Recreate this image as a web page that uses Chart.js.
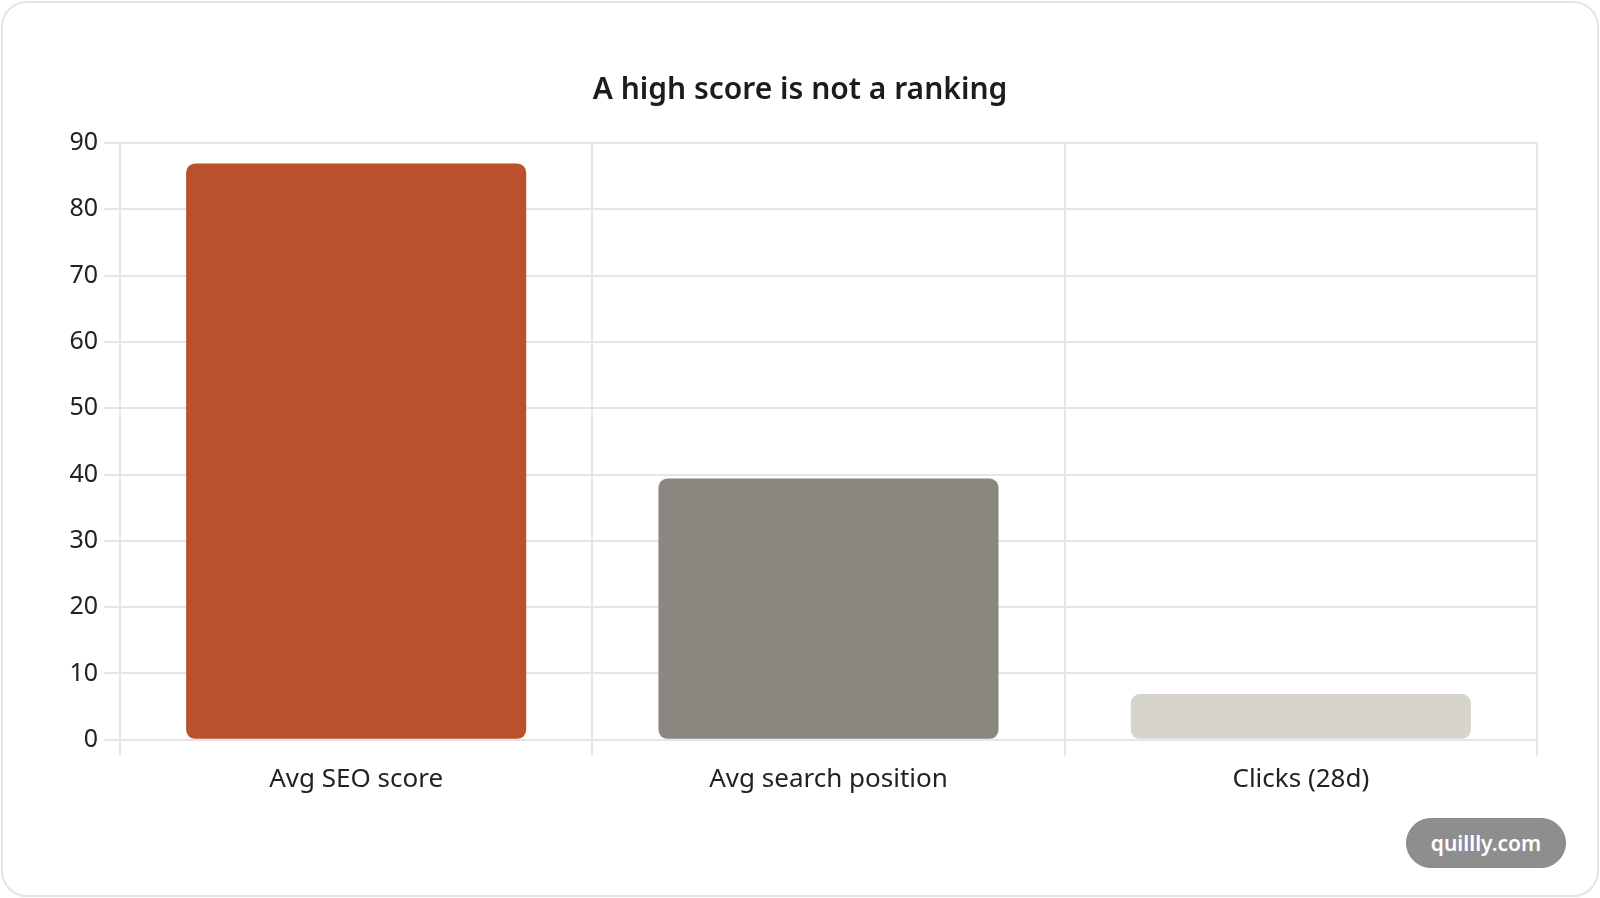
<!DOCTYPE html>
<html>
<head>
<meta charset="utf-8">
<script src="https://cdn.jsdelivr.net/npm/chart.js@4"></script>
<style>
  html, body { margin: 0; padding: 0; background: #fff; }
  body { width: 1600px; height: 898px; position: relative; overflow: hidden; }
  .card {
    position: absolute; left: 1px; top: 1px; width: 1598px; height: 896px;
    box-sizing: border-box; border: 2px solid #e4e4e4; border-radius: 26px; background: #fff;
  }
  #wrap { position: absolute; left: 0; top: 0; width: 1600px; height: 898px; }
  .badge {
    position: absolute; left: 1406px; top: 818px; width: 160px; height: 50px;
    border-radius: 25px; background: #8e8e8e; border: 1px solid #888; box-sizing: border-box;
    color: #fff; font: 600 21px "Noto Sans", sans-serif; line-height: 48px; text-align: center;
  }
</style>
</head>
<body>
<div class="card"></div>
<div id="wrap"><canvas id="bar-chart"></canvas></div>
<div class="badge">quillly.com</div>
<script>
// categories and values
var categories = ["Avg SEO score", "Avg search position", "Clicks (28d)"];
var values = [86.9, 39.4, 6.9];
var barColors = ["#B9512D", "#8A8680", "#D6D4CC"];

var fontFamily = "'Noto Sans', sans-serif";

var chart = new Chart(document.getElementById("bar-chart"), {
  type: 'bar',
  data: {
    labels: categories,
    datasets: [{
      data: values,
      backgroundColor: barColors,
      borderRadius: 9,
      borderSkipped: false
    }]
  },
  options: {
    responsive: true,
    maintainAspectRatio: false,
    animation: false,
    devicePixelRatio: 1,
    // symmetric side padding keeps the title centred on the card
    layout: { padding: { left: 63, right: 63, top: 0, bottom: 95 } },
    plugins: {
      legend: { display: false },
      tooltip: { enabled: false },
      title: {
        display: true,
        text: 'A high score is not a ranking',
        color: '#1c1c1c',
        font: { family: fontFamily, size: 30, weight: '600', lineHeight: 1.2 },
        padding: { top: 72, bottom: 35 }
      }
    },
    scales: {
      x: {
        grid: { color: '#e5e5e5', lineWidth: 2, tickLength: 16 },
        border: { color: '#e5e5e5', width: 2 },
        ticks: { color: '#222', padding: 8, font: { family: fontFamily, size: 26 } }
      },
      y: {
        min: 0,
        max: 90,
        afterFit: function(scale) { scale.width = 57; },
        grid: { color: '#e5e5e5', lineWidth: 2, tickLength: 16 },
        border: { color: '#e5e5e5', width: 2 },
        ticks: { stepSize: 10, color: '#222', padding: 6, font: { family: fontFamily, size: 25 } }
      }
    }
  }
});
</script>
</body>
</html>
